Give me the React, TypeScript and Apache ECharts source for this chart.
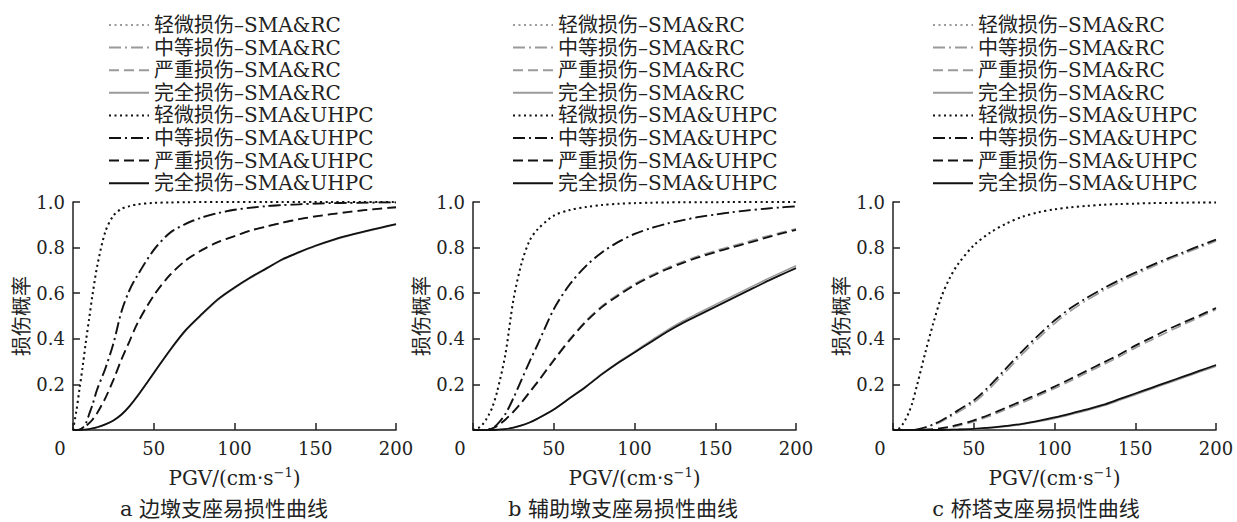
import React, { useEffect, useRef } from "react";
import * as echarts from "echarts";

// PGV sample points (cm/s)
const PGV = [0, 2, 4, 6, 8, 10, 12, 15, 20, 25, 30, 35, 40, 50, 60, 70, 80, 90, 100, 110, 120, 130, 140, 150, 160, 170, 180, 190, 200];

const NAMES_RC = ["轻微损伤–SMA&RC", "中等损伤–SMA&RC", "严重损伤–SMA&RC", "完全损伤–SMA&RC"];
const NAMES_UHPC = ["轻微损伤–SMA&UHPC", "中等损伤–SMA&UHPC", "严重损伤–SMA&UHPC", "完全损伤–SMA&UHPC"];

const X_TICKS = [0, 50, 100, 150, 200];
const Y_TICKS = [0.2, 0.4, 0.6, 0.8, 1.0];

const CAPTIONS = ["a 边墩支座易损性曲线", "b 辅助墩支座易损性曲线", "c 桥塔支座易损性曲线"];

// Panel a: 边墩
const A_SLIGHT_RC = [0, 0.075, 0.17, 0.27, 0.38, 0.48, 0.58, 0.715, 0.865, 0.938, 0.968, 0.981, 0.989, 0.996, 0.998, 0.999, 1, 1, 1, 1, 1, 1, 1, 1, 1, 1, 1, 1, 1];
const A_MOD_RC = [0, 0, 0.001, 0.009, 0.028, 0.066, 0.105, 0.175, 0.265, 0.375, 0.515, 0.61, 0.676, 0.787, 0.862, 0.903, 0.931, 0.951, 0.965, 0.974, 0.981, 0.986, 0.99, 0.993, 0.995, 0.996, 0.997, 0.998, 0.998];
const A_SEV_RC = [0, 0, 0.002, 0.007, 0.017, 0.029, 0.044, 0.073, 0.137, 0.217, 0.307, 0.387, 0.467, 0.588, 0.678, 0.744, 0.789, 0.824, 0.85, 0.874, 0.892, 0.909, 0.924, 0.936, 0.946, 0.955, 0.963, 0.97, 0.976];
const A_COMP_RC = [0, 0, 0, 0.001, 0.002, 0.004, 0.007, 0.012, 0.024, 0.041, 0.066, 0.103, 0.148, 0.248, 0.348, 0.437, 0.507, 0.572, 0.622, 0.667, 0.708, 0.748, 0.778, 0.806, 0.83, 0.85, 0.868, 0.885, 0.901];
const A_SLIGHT_UHPC = [0, 0.08, 0.18, 0.28, 0.39, 0.49, 0.59, 0.72, 0.87, 0.94, 0.97, 0.982, 0.99, 0.996, 0.998, 0.999, 1, 1, 1, 1, 1, 1, 1, 1, 1, 1, 1, 1, 1];
const A_MOD_UHPC = [0, 0, 0.001, 0.01, 0.03, 0.07, 0.11, 0.18, 0.27, 0.38, 0.52, 0.615, 0.68, 0.79, 0.865, 0.905, 0.933, 0.952, 0.966, 0.975, 0.982, 0.987, 0.99, 0.993, 0.995, 0.996, 0.997, 0.998, 0.998];
const A_SEV_UHPC = [0, 0, 0.002, 0.008, 0.018, 0.03, 0.045, 0.075, 0.14, 0.22, 0.31, 0.39, 0.47, 0.59, 0.68, 0.745, 0.79, 0.825, 0.85, 0.875, 0.893, 0.91, 0.925, 0.937, 0.947, 0.956, 0.964, 0.971, 0.977];
const A_COMP_UHPC = [0, 0, 0, 0.001, 0.002, 0.004, 0.007, 0.012, 0.025, 0.042, 0.068, 0.105, 0.15, 0.25, 0.35, 0.44, 0.51, 0.575, 0.625, 0.67, 0.71, 0.75, 0.78, 0.808, 0.832, 0.852, 0.87, 0.887, 0.903];

// Panel b: 辅助墩
const B_SLIGHT_RC = [0, 0.005, 0.011, 0.024, 0.043, 0.068, 0.098, 0.167, 0.325, 0.565, 0.727, 0.828, 0.879, 0.939, 0.964, 0.978, 0.987, 0.992, 0.995, 0.997, 0.998, 0.999, 0.999, 0.999, 1, 1, 1, 1, 1];
const B_MOD_RC = [0, 0, 0, 0, 0.001, 0.003, 0.008, 0.024, 0.068, 0.137, 0.217, 0.297, 0.372, 0.527, 0.637, 0.718, 0.779, 0.824, 0.859, 0.884, 0.904, 0.92, 0.934, 0.945, 0.955, 0.963, 0.97, 0.976, 0.98];
const B_SEV_RC = [0, 0, 0, 0, 0.001, 0.003, 0.007, 0.018, 0.046, 0.082, 0.122, 0.168, 0.213, 0.309, 0.4, 0.48, 0.545, 0.596, 0.641, 0.678, 0.711, 0.739, 0.764, 0.786, 0.806, 0.826, 0.846, 0.865, 0.883];
const B_COMP_RC = [0, 0, 0, 0, 0, 0, 0, 0.001, 0.004, 0.01, 0.02, 0.033, 0.05, 0.09, 0.141, 0.192, 0.248, 0.298, 0.344, 0.391, 0.437, 0.478, 0.514, 0.55, 0.585, 0.62, 0.655, 0.688, 0.72];
const B_SLIGHT_UHPC = [0, 0.005, 0.012, 0.025, 0.045, 0.07, 0.1, 0.17, 0.33, 0.57, 0.73, 0.83, 0.88, 0.94, 0.965, 0.978, 0.987, 0.992, 0.995, 0.997, 0.998, 0.999, 0.999, 0.999, 1, 1, 1, 1, 1];
const B_MOD_UHPC = [0, 0, 0, 0, 0.001, 0.003, 0.008, 0.025, 0.07, 0.14, 0.22, 0.3, 0.375, 0.53, 0.64, 0.72, 0.78, 0.825, 0.86, 0.885, 0.905, 0.92, 0.935, 0.945, 0.955, 0.963, 0.97, 0.976, 0.981];
const B_SEV_UHPC = [0, 0, 0, 0, 0.001, 0.003, 0.007, 0.018, 0.045, 0.08, 0.12, 0.165, 0.21, 0.305, 0.395, 0.475, 0.54, 0.59, 0.635, 0.672, 0.705, 0.733, 0.758, 0.78, 0.8, 0.82, 0.84, 0.86, 0.878];
const B_COMP_UHPC = [0, 0, 0, 0, 0, 0, 0, 0.001, 0.004, 0.01, 0.02, 0.033, 0.05, 0.09, 0.14, 0.19, 0.245, 0.295, 0.34, 0.385, 0.43, 0.47, 0.505, 0.54, 0.575, 0.61, 0.645, 0.678, 0.71];

// Panel c: 桥塔
const C_SLIGHT_RC = [0, 0.002, 0.008, 0.024, 0.048, 0.078, 0.118, 0.197, 0.336, 0.466, 0.581, 0.662, 0.722, 0.808, 0.864, 0.904, 0.934, 0.954, 0.967, 0.976, 0.982, 0.987, 0.99, 0.993, 0.995, 0.996, 0.997, 0.998, 0.998];
const C_MOD_RC = [0, 0, 0, 0, 0, 0, 0, 0.002, 0.01, 0.022, 0.037, 0.056, 0.077, 0.12, 0.183, 0.257, 0.332, 0.402, 0.467, 0.523, 0.569, 0.61, 0.647, 0.681, 0.714, 0.745, 0.773, 0.801, 0.829];
const C_SEV_RC = [0, 0, 0, 0, 0, 0, 0, 0, 0.001, 0.003, 0.006, 0.011, 0.018, 0.036, 0.061, 0.09, 0.12, 0.15, 0.182, 0.216, 0.251, 0.286, 0.321, 0.36, 0.395, 0.43, 0.463, 0.495, 0.528];
const C_COMP_RC = [0, 0, 0, 0, 0, 0, 0, 0, 0, 0, 0, 0.001, 0.002, 0.004, 0.009, 0.016, 0.025, 0.037, 0.051, 0.068, 0.086, 0.106, 0.13, 0.155, 0.18, 0.205, 0.23, 0.255, 0.28];
const C_SLIGHT_UHPC = [0, 0.002, 0.008, 0.025, 0.05, 0.08, 0.12, 0.2, 0.34, 0.47, 0.585, 0.665, 0.725, 0.81, 0.865, 0.905, 0.935, 0.955, 0.968, 0.977, 0.983, 0.988, 0.991, 0.993, 0.995, 0.996, 0.997, 0.998, 0.998];
const C_MOD_UHPC = [0, 0, 0, 0, 0, 0, 0, 0.003, 0.012, 0.025, 0.042, 0.062, 0.085, 0.13, 0.195, 0.27, 0.345, 0.415, 0.48, 0.535, 0.58, 0.62, 0.657, 0.69, 0.722, 0.752, 0.78, 0.808, 0.835];
const C_SEV_UHPC = [0, 0, 0, 0, 0, 0, 0, 0, 0.002, 0.004, 0.008, 0.014, 0.022, 0.042, 0.068, 0.098, 0.128, 0.158, 0.19, 0.225, 0.26, 0.295, 0.33, 0.37, 0.405, 0.44, 0.472, 0.503, 0.535];
const C_COMP_UHPC = [0, 0, 0, 0, 0, 0, 0, 0, 0, 0, 0, 0.001, 0.002, 0.005, 0.01, 0.018, 0.027, 0.04, 0.055, 0.072, 0.09, 0.11, 0.135, 0.16, 0.185, 0.21, 0.235, 0.26, 0.285];

const PANELS = [
  { rc: [A_SLIGHT_RC, A_MOD_RC, A_SEV_RC, A_COMP_RC], uhpc: [A_SLIGHT_UHPC, A_MOD_UHPC, A_SEV_UHPC, A_COMP_UHPC] },
  { rc: [B_SLIGHT_RC, B_MOD_RC, B_SEV_RC, B_COMP_RC], uhpc: [B_SLIGHT_UHPC, B_MOD_UHPC, B_SEV_UHPC, B_COMP_UHPC] },
  { rc: [C_SLIGHT_RC, C_MOD_RC, C_SEV_RC, C_COMP_RC], uhpc: [C_SLIGHT_UHPC, C_MOD_UHPC, C_SEV_UHPC, C_COMP_UHPC] },
];

const FONT = "'DejaVu Serif', 'Noto Sans CJK SC', serif";
const DASHES: any[] = [[2, 3.5], [12, 4, 2, 4], [10, 5], "solid"];
const GRID_LEFT = [73, 473, 893];
const LEGEND_LEFT = [108, 512, 932];
const CAPTION_X = [224, 623, 1036];

export default function App() {
  const ref = useRef<HTMLDivElement>(null);
  useEffect(() => {
    if (!ref.current) return;
    const chart = echarts.init(ref.current, undefined, { renderer: "svg" });

    const grids = GRID_LEFT.map((l) => ({ left: l, top: 202, width: 323, height: 228, containLabel: false }));
    const axisLineStyle = { color: "#222", width: 1.5 };
    const xAxes = GRID_LEFT.map((_, i) => ({
      type: "value",
      gridIndex: i,
      min: X_TICKS[0],
      max: X_TICKS[X_TICKS.length - 1],
      interval: 50,
      axisLine: { show: true, onZero: false, lineStyle: axisLineStyle },
      axisTick: { show: true, inside: true, length: 7, lineStyle: axisLineStyle },
      splitLine: { show: false },
      axisLabel: {
        margin: 9,
        fontSize: 18,
        fontFamily: FONT,
        color: "#222",
        formatter: (v: number) => (v === 0 ? "{z|0}" : String(v)),
        rich: { z: { padding: [0, 26, 0, 0], fontSize: 18, fontFamily: FONT, color: "#222" } },
      },
      name: "PGV/(cm·s{sup|−1})",
      nameLocation: "middle",
      nameGap: 36,
      nameTextStyle: {
        fontSize: 20,
        fontFamily: FONT,
        color: "#222",
        lineHeight: 24,
        rich: { sup: { fontSize: 13, fontFamily: FONT, color: "#222", verticalAlign: "top", lineHeight: 14 } },
      },
    }));
    const yAxes = GRID_LEFT.map((_, i) => ({
      type: "value",
      gridIndex: i,
      min: 0,
      max: Y_TICKS[Y_TICKS.length - 1],
      interval: 0.2,
      axisLine: { show: true, onZero: false, lineStyle: axisLineStyle },
      axisTick: { show: true, inside: true, length: 7, lineStyle: axisLineStyle },
      splitLine: { show: false },
      axisLabel: {
        margin: 8,
        fontSize: 18,
        fontFamily: FONT,
        color: "#222",
        formatter: (v: number) => (v === 0 ? "" : v.toFixed(1)),
      },
      name: "损伤概率",
      nameLocation: "middle",
      nameRotate: 90,
      nameGap: 40,
      nameTextStyle: { fontSize: 20, fontFamily: FONT, color: "#222" },
    }));

    const series: any[] = [];
    PANELS.forEach((p, pi) => {
      p.rc.forEach((vals, li) => {
        series.push({
          type: "line",
          name: NAMES_RC[li],
          xAxisIndex: pi,
          yAxisIndex: pi,
          data: PGV.map((x, k) => [x, vals[k]]),
          symbol: "none",
          showSymbol: false,
          smooth: 0.3,
          z: 2,
          lineStyle: { color: "#9a9a9a", width: li === 0 ? 1.4 : 1.6, type: DASHES[li] },
          itemStyle: { color: "#9a9a9a", opacity: 0 },
        });
      });
      p.uhpc.forEach((vals, li) => {
        series.push({
          type: "line",
          name: NAMES_UHPC[li],
          xAxisIndex: pi,
          yAxisIndex: pi,
          data: PGV.map((x, k) => [x, vals[k]]),
          symbol: "none",
          showSymbol: false,
          smooth: 0.3,
          z: 3,
          lineStyle: { color: "#111", width: li === 0 ? 2 : 1.8, type: DASHES[li] },
          itemStyle: { color: "#111", opacity: 0 },
        });
      });
    });

    const legends = LEGEND_LEFT.map((l) => ({
      data: [...NAMES_RC, ...NAMES_UHPC],
      orient: "vertical",
      left: l,
      top: 15,
      padding: 0,
      itemWidth: 40,
      itemHeight: 14,
      itemGap: 2.6,
      selectedMode: false,
      itemStyle: { opacity: 0, borderWidth: 0 },
      textStyle: { fontSize: 20, fontFamily: FONT, color: "#222", lineHeight: 20 },
    }));

    const graphics = CAPTIONS.map((t, i) => ({
      type: "text",
      x: CAPTION_X[i],
      y: 509,
      style: { text: t, fontSize: 21, fontFamily: FONT, fill: "#222", align: "center", verticalAlign: "middle" },
    }));

    chart.setOption({
      animation: false,
      backgroundColor: "#fff",
      grid: grids,
      xAxis: xAxes,
      yAxis: yAxes,
      legend: legends,
      series,
      graphic: graphics,
    });
    return () => chart.dispose();
  }, []);
  return <div ref={ref} style={{ position: "absolute", left: 0, top: 0, width: 1237, height: 522 }} />;
}
